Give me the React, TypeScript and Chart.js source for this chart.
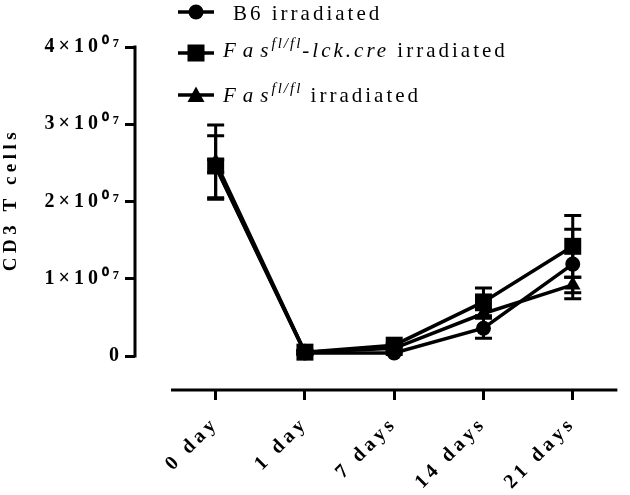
import React, { useEffect, useRef } from "react";
import { Chart, registerables } from "chart.js";

Chart.register(...registerables);

// ---- data ----
const categories = ["0 day", "1 day", "7 days", "14 days", "21 days"];
const b6Values = [2.45e7, 0.04e7, 0.04e7, 0.36e7, 1.19e7];
const b6Errors = [0.4e7, 0.02e7, 0.02e7, 0.13e7, 0.45e7];
const creValues = [2.46e7, 0.05e7, 0.14e7, 0.7e7, 1.42e7];
const creErrors = [0.08e7, 0.02e7, 0.02e7, 0.18e7, 0.4e7];
const flValues = [2.51e7, 0.05e7, 0.1e7, 0.55e7, 0.92e7];
const flErrors = [0.48e7, 0.02e7, 0.03e7, 0.05e7, 0.1e7];
const yTickValues = [0, 1e7, 2e7, 3e7, 4e7];
const yTickLabels = ["0", "1×10⁰⁷", "2×10⁰⁷", "3×10⁰⁷", "4×10⁰⁷"];
const yTitle = "CD3 T cells";

const SERIF = "'Liberation Serif', 'Times New Roman', serif";

function Symbol({ kind }: { kind: string }) {
  return (
    <svg width={36} height={24} style={{ display: "block" }}>
      <line x1={0} y1={12} x2={36} y2={12} stroke="#000" strokeWidth={3.5} />
      {kind === "circle" && <circle cx={18} cy={12} r={7.5} fill="#000" />}
      {kind === "rect" && <rect x={9.5} y={3.5} width={17} height={17} fill="#000" />}
      {kind === "triangle" && <polygon points="18,3.5 26.5,19 9.5,19" fill="#000" />}
    </svg>
  );
}

export default function App() {
  const canvasRef = useRef<HTMLCanvasElement | null>(null);

  useEffect(() => {
    const canvas = canvasRef.current;
    if (!canvas) return;

    const toPts = (vals: number[]) => vals.map((v, i) => ({ x: i, y: v }));
    const errorSets = [b6Errors, creErrors, flErrors];

    const spacingPlugin = {
      id: "spacing",
      beforeUpdate(chart: any) {
        chart.ctx.letterSpacing = "4px";
      },
      beforeDraw(chart: any) {
        chart.ctx.letterSpacing = "4px";
      },
    };

    const axesAndErrors = {
      id: "axesAndErrors",
      beforeDatasetsDraw(chart: any) {
        const { ctx, chartArea } = chart;
        const xs = chart.scales.x;
        const ys = chart.scales.y;
        ctx.save();
        ctx.strokeStyle = "#000";
        ctx.lineWidth = 3;
        ctx.lineCap = "butt";
        // y axis line (0 .. max)
        ctx.beginPath();
        ctx.moveTo(chartArea.left, ys.getPixelForValue(0) + 1.5);
        ctx.lineTo(chartArea.left, ys.getPixelForValue(4e7) - 1.5);
        ctx.stroke();
        // x axis line
        ctx.beginPath();
        ctx.moveTo(xs.getPixelForValue(-0.5), chartArea.bottom);
        ctx.lineTo(xs.getPixelForValue(categories.length - 0.5), chartArea.bottom);
        ctx.stroke();
        // error bars
        chart.data.datasets.forEach((ds: any, di: number) => {
          const errs = errorSets[di];
          ds.data.forEach((p: any, i: number) => {
            const e = errs[i];
            const px = xs.getPixelForValue(p.x);
            const top = ys.getPixelForValue(p.y + e);
            const bot = ys.getPixelForValue(p.y - e);
            ctx.beginPath();
            ctx.moveTo(px, top);
            ctx.lineTo(px, bot);
            ctx.moveTo(px - 8.5, top);
            ctx.lineTo(px + 8.5, top);
            ctx.moveTo(px - 8.5, bot);
            ctx.lineTo(px + 8.5, bot);
            ctx.stroke();
          });
        });
        // y title centred on the axis line
        const cy = (ys.getPixelForValue(0) + ys.getPixelForValue(4e7)) / 2;
        ctx.fillStyle = "#000";
        ctx.font = `bold 19px ${SERIF}`;
        ctx.letterSpacing = "4.5px";
        ctx.textAlign = "center";
        ctx.textBaseline = "alphabetic";
        ctx.translate(16, cy);
        ctx.rotate(-Math.PI / 2);
        ctx.fillText(yTitle, 2, 0);
        ctx.restore();
      },
    };

    const common = {
      borderColor: "#000",
      backgroundColor: "#000",
      pointBackgroundColor: "#000",
      pointBorderColor: "#000",
      pointBorderWidth: 0,
      borderWidth: 3.5,
      tension: 0,
    };

    const tickFont = { family: SERIF, size: 20, weight: "bold" as const };

    const chart = new Chart(canvas, {
      type: "line",
      data: {
        datasets: [
          { ...common, label: "B6 irradiated", data: toPts(b6Values), pointStyle: "circle", pointRadius: 7.5 },
          { ...common, label: "Fas fl/fl-lck.cre irradiated", data: toPts(creValues), pointStyle: "rect", pointRadius: 12 },
          { ...common, label: "Fas fl/fl irradiated", data: toPts(flValues), pointStyle: "triangle", pointRadius: 9 },
        ],
      },
      options: {
        animation: false,
        responsive: false,
        maintainAspectRatio: false,
        layout: { padding: { top: 47, right: 4, left: 0, bottom: 0 } },
        plugins: { legend: { display: false }, tooltip: { enabled: false } },
        scales: {
          x: {
            type: "linear",
            min: -0.9036,
            max: 4.507,
            afterBuildTicks: (s: any) => {
              s.ticks = categories.map((_, i) => ({ value: i }));
            },
            afterFit: (s: any) => {
              s.height = 105;
            },
            ticks: {
              autoSkip: false,
              minRotation: 45,
              maxRotation: 45,
              padding: 12,
              color: "#000",
              font: tickFont,
              callback: (v: any) => categories[v as number] ?? "",
            },
            grid: {
              display: true,
              drawOnChartArea: false,
              drawTicks: true,
              tickLength: 10,
              tickWidth: 3,
              tickColor: "#000",
            },
            border: { display: false },
          },
          y: {
            type: "linear",
            min: -0.44e7,
            max: 4e7,
            afterBuildTicks: (s: any) => {
              s.ticks = yTickValues.map((v) => ({ value: v }));
            },
            afterFit: (s: any) => {
              s.width = 135;
            },
            ticks: {
              autoSkip: false,
              padding: 2,
              color: "#000",
              font: tickFont,
              callback: (v: any) => {
                const idx = yTickValues.indexOf(v as number);
                return idx >= 0 ? yTickLabels[idx] : "";
              },
            },
            grid: {
              display: true,
              drawOnChartArea: false,
              drawTicks: true,
              tickLength: 10,
              tickWidth: 3,
              tickColor: "#000",
            },
            border: { display: false },
            title: { display: false },
          },
        },
      } as any,
      plugins: [spacingPlugin, axesAndErrors],
    });

    return () => chart.destroy();
  }, []);

  const textStyle: React.CSSProperties = {
    position: "absolute",
    fontFamily: SERIF,
    fontSize: 21,
    lineHeight: "24px",
    letterSpacing: "3px",
    color: "#000",
    whiteSpace: "nowrap",
  };
  const fasStyle: React.CSSProperties = { fontStyle: "italic", letterSpacing: "7px" };
  const supStyle: React.CSSProperties = {
    fontSize: 15,
    fontStyle: "italic",
    letterSpacing: "2px",
    position: "relative",
    top: -9,
    marginLeft: -4,
  };

  return (
    <div style={{ position: "absolute", left: 0, top: 0, width: 630, height: 495, background: "#fff" }}>
      <canvas ref={canvasRef} width={630} height={495} style={{ display: "block", width: 630, height: 495 }} />
      <div style={{ position: "absolute", left: 178, top: 0 }}>
        <Symbol kind="circle" />
      </div>
      <div style={{ position: "absolute", left: 178, top: 41 }}>
        <Symbol kind="rect" />
      </div>
      <div style={{ position: "absolute", left: 178, top: 83 }}>
        <Symbol kind="triangle" />
      </div>
      <div style={{ ...textStyle, left: 233, top: 1 }}>B6 irradiated</div>
      <div style={{ ...textStyle, left: 223, top: 38 }}>
        <span style={fasStyle}>Fas</span>
        <span style={supStyle}>fl/fl</span>
        <i>-lck.cre</i> irradiated
      </div>
      <div style={{ ...textStyle, left: 223, top: 83 }}>
        <span style={fasStyle}>Fas</span>
        <span style={supStyle}>fl/fl</span> irradiated
      </div>
    </div>
  );
}
